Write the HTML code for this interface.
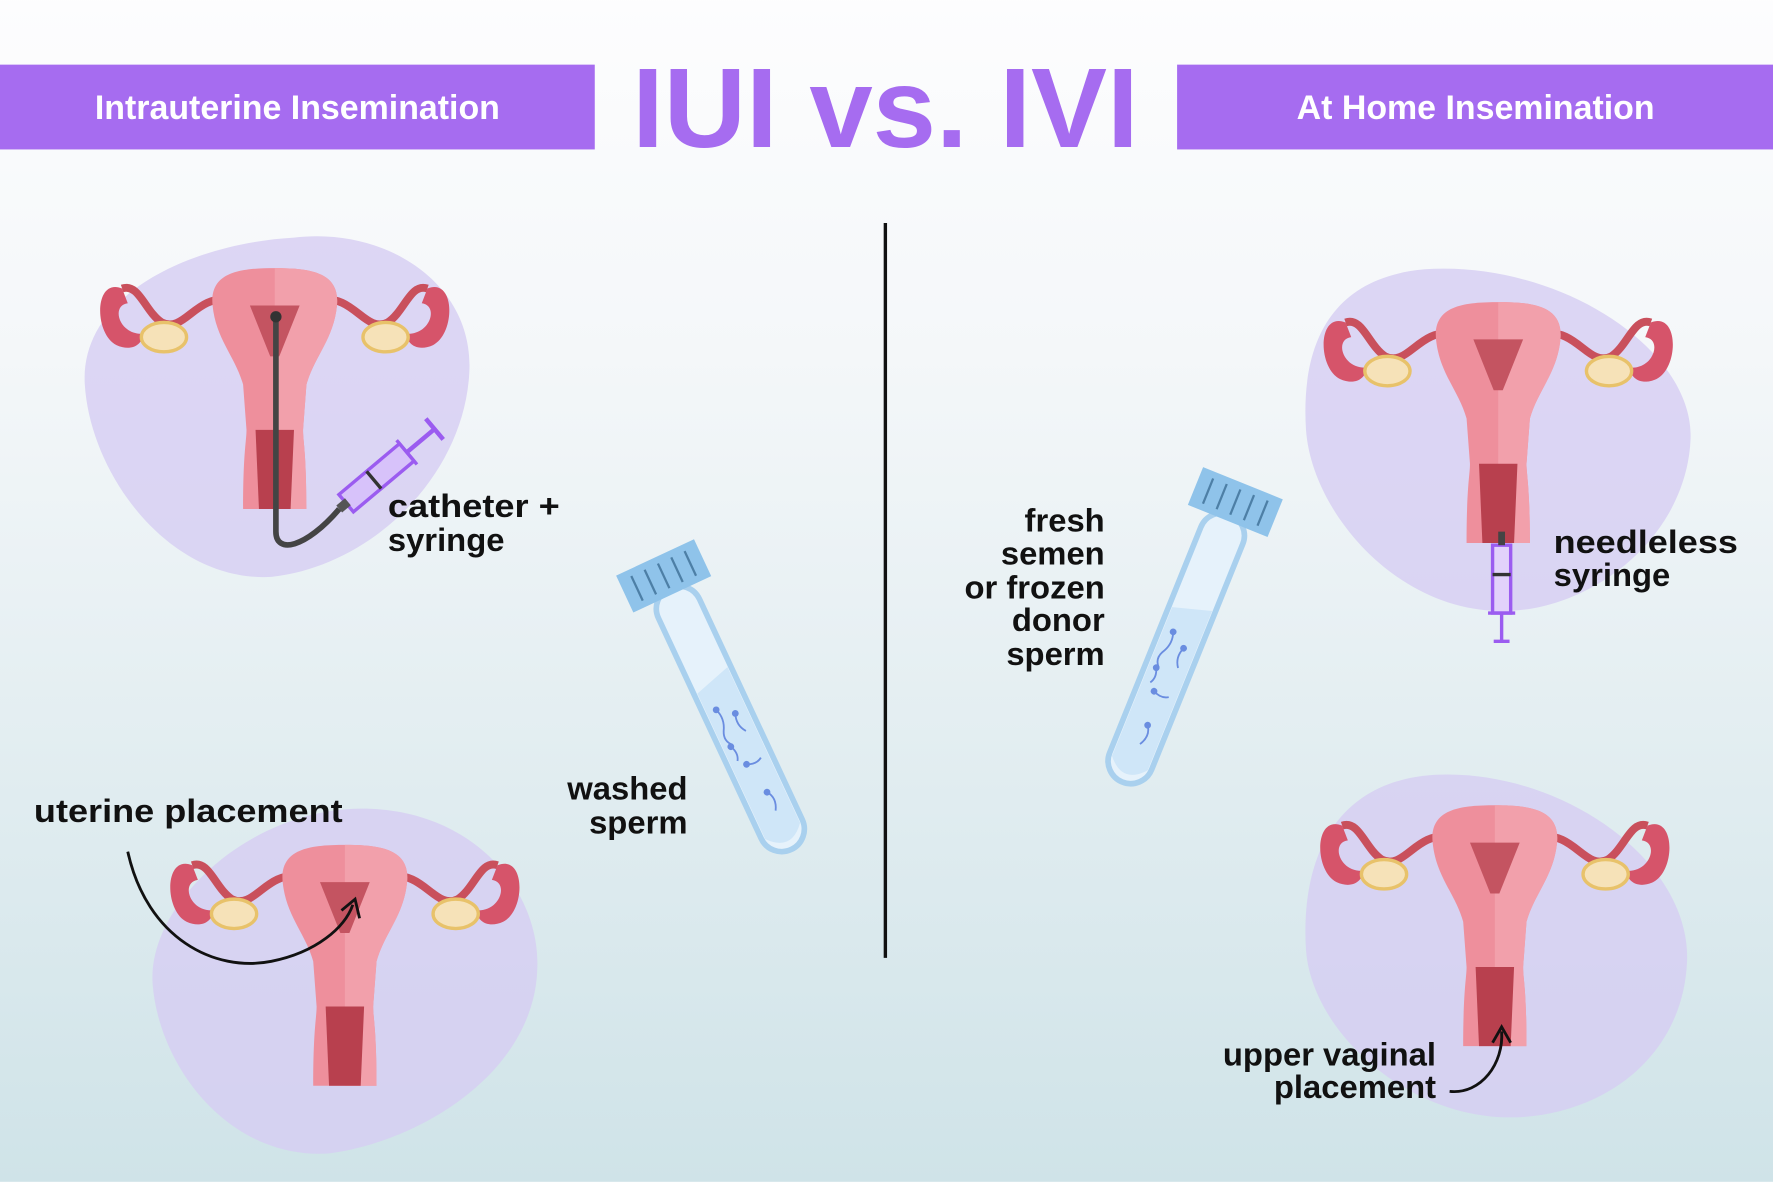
<!DOCTYPE html>
<html><head><meta charset="utf-8"><style>
html,body{margin:0;padding:0;width:1773px;height:1182px;overflow:hidden}
svg{display:block}
text{font-family:"Liberation Sans",Arial,sans-serif;font-weight:bold}
</style></head><body>
<svg width="1773" height="1182" viewBox="0 0 1568 1045" xmlns="http://www.w3.org/2000/svg">
<defs>
<linearGradient id="bg" x1="0" y1="0" x2="0" y2="1">
<stop offset="0" stop-color="#fdfdfe"/><stop offset="0.3" stop-color="#f4f7f9"/><stop offset="1" stop-color="#cfe3e8"/>
</linearGradient>
<g id="ut">
<path d="M-40,25 C-70,20 -80,55 -100,45 C-115,35 -120,10 -135,15" stroke="#c9505c" stroke-width="7" fill="none"/>
<path d="M40,25 C70,20 80,55 100,45 C115,35 120,10 135,15" stroke="#c9505c" stroke-width="7" fill="none"/>
<path d="M-135,15 C-160,5 -160,55 -140,65 C-125,72 -115,62 -118,55 C-138,55 -145,30 -130,28 Z" fill="#d6546a"/>
<path d="M135,15 C160,5 160,55 140,65 C125,72 115,62 118,55 C138,55 145,30 130,28 Z" fill="#d6546a"/>
<ellipse cx="-98" cy="58" rx="20" ry="13" fill="#f6e2b8" stroke="#e8c26a" stroke-width="3"/>
<ellipse cx="98" cy="58" rx="20" ry="13" fill="#f6e2b8" stroke="#e8c26a" stroke-width="3"/>
<path d="M-55,30 C-58,0 -30,-3 0,-3 C30,-3 58,0 55,30 C52,60 35,75 28,100 L25,140 C25,150 28,160 28,210 L-28,210 C-28,160 -25,150 -25,140 L-28,100 C-35,75 -52,60 -55,30 Z" fill="#ee8f9c"/>
<path d="M0,-3 C30,-3 58,0 55,30 C52,60 35,75 28,100 L25,140 C25,150 28,160 28,210 L0,210 Z" fill="#f2a0ab"/>
<path d="M-22,30 L22,30 L4,75 L-4,75 Z" fill="#c45461"/>
<path d="M-17,140 L17,140 L14,210 L-14,210 Z" fill="#b8404e"/>
</g>
<g id="tube">
<rect x="-20" y="0" width="40" height="255" rx="20" fill="#e6f2fb" stroke="#a9d0ee" stroke-width="5"/>
<path d="M-17,95 L17,85 L17,237 Q0,257 -17,237 Z" fill="#cfe6f8"/>
<rect x="-38" y="-30" width="76" height="36" fill="#8fc3ea"/>
<g stroke="#4d7fa6" stroke-width="2"><line x1="-26" y1="-24" x2="-26" y2="0"/><line x1="-13" y1="-24" x2="-13" y2="0"/><line x1="0" y1="-24" x2="0" y2="0"/><line x1="13" y1="-24" x2="13" y2="0"/><line x1="26" y1="-24" x2="26" y2="0"/></g>
<g stroke="#6a8de0" stroke-width="1.6" fill="none">
<path d="M-8,115 q4,10 -2,20 q-4,8 2,14"/><path d="M6,125 q-4,10 2,18"/><path d="M-4,170 q8,4 14,0"/><path d="M2,200 q6,8 0,18"/><path d="M-10,150 q4,8 0,14"/>
</g>
<g fill="#6a8de0"><circle cx="-8" cy="115" r="3"/><circle cx="6" cy="125" r="3"/><circle cx="-4" cy="170" r="3"/><circle cx="2" cy="200" r="3"/><circle cx="-10" cy="150" r="3"/></g>
</g>
</defs>
<rect width="1568" height="1045" fill="url(#bg)"/>
<rect x="0" y="57" width="526" height="75" fill="#a66cf0"/>
<rect x="1041" y="57" width="527" height="75" fill="#a66cf0"/>
<text x="263" y="105" font-size="30" fill="#fff" text-anchor="middle">Intrauterine Insemination</text>
<text x="1305" y="105" font-size="30" fill="#fff" text-anchor="middle">At Home Insemination</text>
<text x="783" y="130" font-size="100" fill="#a66cf0" text-anchor="middle" textLength="448" lengthAdjust="spacingAndGlyphs">IUI vs. IVI</text>
<line x1="783" y1="197" x2="783" y2="847" stroke="#111" stroke-width="3"/>
<path d="M260,210 C340,200 420,250 415,330 C410,420 330,500 240,510 C150,515 80,420 75,340 C70,260 170,215 260,210 Z" fill="#d6cdf2" opacity="0.8"/>
<path d="M320,715 C420,715 480,790 475,860 C470,950 370,1010 290,1020 C200,1025 140,940 135,870 C130,800 220,715 320,715 Z" fill="#d6cdf2" opacity="0.8"/>
<path d="M1260,238 C1380,230 1500,310 1495,390 C1490,480 1400,545 1320,540 C1230,535 1160,450 1155,380 C1150,300 1180,245 1260,238 Z" fill="#d6cdf2" opacity="0.8"/>
<path d="M1270,685 C1380,680 1495,760 1492,850 C1488,940 1410,990 1330,988 C1240,985 1160,910 1155,840 C1150,760 1180,690 1270,685 Z" fill="#d6cdf2" opacity="0.8"/>
<use href="#ut" transform="translate(243,240)"/>
<use href="#ut" transform="translate(305,750)"/>
<use href="#ut" transform="translate(1325,270)"/>
<use href="#ut" transform="translate(1322,715)"/>
<path d="M244,280 L244,470 C244,490 270,485 300,450" stroke="#444" stroke-width="5" fill="none"/>
<circle cx="244" cy="280" r="5" fill="#333"/>
<g transform="translate(300,450) rotate(-40)">
<rect x="8" y="-10" width="70" height="20" fill="#d7c2fa" stroke="#9b5cf0" stroke-width="3"/>
<rect x="0" y="-4" width="10" height="8" fill="#555"/>
<line x1="78" y1="-14" x2="78" y2="14" stroke="#9b5cf0" stroke-width="3"/>
<line x1="78" y1="0" x2="110" y2="0" stroke="#9b5cf0" stroke-width="4"/>
<line x1="110" y1="-12" x2="110" y2="12" stroke="#9b5cf0" stroke-width="4"/>
<line x1="40" y1="-10" x2="40" y2="10" stroke="#333" stroke-width="3"/>
</g>
<g transform="translate(1328,470)">
<rect x="-8" y="12" width="16" height="60" fill="#e2d2fb" stroke="#9b5cf0" stroke-width="3"/>
<rect x="-3" y="0" width="6" height="12" fill="#444"/>
<line x1="-12" y1="72" x2="12" y2="72" stroke="#9b5cf0" stroke-width="3"/>
<line x1="0" y1="72" x2="0" y2="97" stroke="#9b5cf0" stroke-width="3"/>
<line x1="-7" y1="97" x2="7" y2="97" stroke="#9b5cf0" stroke-width="3"/>
<line x1="-8" y1="38" x2="8" y2="38" stroke="#333" stroke-width="3"/>
</g>
<use href="#tube" transform="translate(592,520) rotate(-25)"/>
<use href="#tube" transform="translate(1088,455) rotate(22)"/>
<path d="M113,753 C130,830 190,860 240,850 C280,842 305,820 312,800" stroke="#111" stroke-width="2.5" fill="none"/>
<path d="M302,805 L314,795 L318,812" stroke="#111" stroke-width="2.5" fill="none"/>
<path d="M1282,965 C1310,968 1330,940 1328,912" stroke="#111" stroke-width="2.5" fill="none"/>
<path d="M1320,922 L1328,908 L1336,922" stroke="#111" stroke-width="2.5" fill="none"/>
<g font-size="29" fill="#111">
<text x="343" y="457" textLength="152" lengthAdjust="spacingAndGlyphs">catheter +</text>
<text x="343" y="487">syringe</text>
<text x="30" y="727" textLength="273" lengthAdjust="spacingAndGlyphs">uterine placement</text>
<text x="608" y="707" text-anchor="end">washed</text>
<text x="608" y="737" text-anchor="end">sperm</text>
<text x="977" y="470" text-anchor="end">fresh</text>
<text x="977" y="499" text-anchor="end">semen</text>
<text x="977" y="529" text-anchor="end">or frozen</text>
<text x="977" y="558" text-anchor="end">donor</text>
<text x="977" y="588" text-anchor="end">sperm</text>
<text x="1374" y="489" textLength="163" lengthAdjust="spacingAndGlyphs">needleless</text>
<text x="1374" y="518">syringe</text>
<text x="1270" y="942" text-anchor="end">upper vaginal</text>
<text x="1270" y="971" text-anchor="end">placement</text>
</g>
</svg>
</body></html>
